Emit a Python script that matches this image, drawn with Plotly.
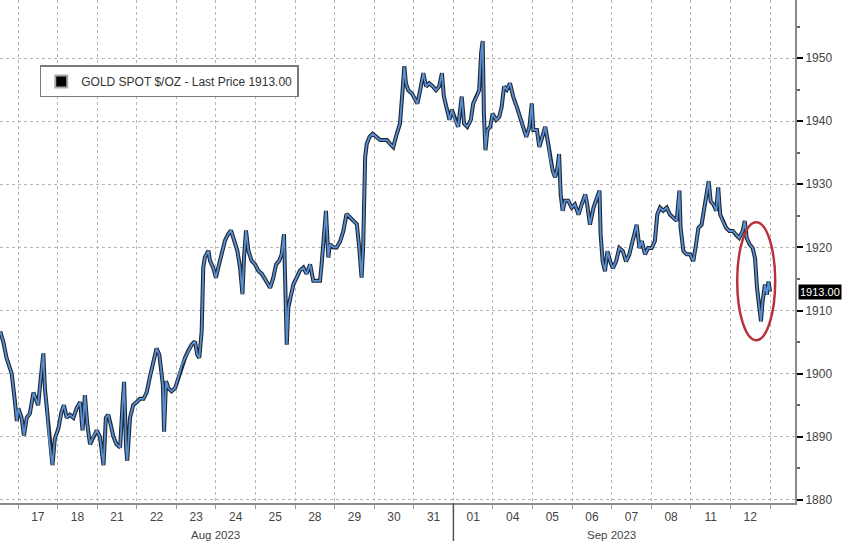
import plotly.graph_objects as go

# trading-day position (0 = start of Aug 17 session) and gold spot price
t_days = [-0.45, -0.37, -0.29, -0.16, -0.08, -0.03, 0.01, 0.09, 0.15, 0.22, 0.30, 0.39, 0.45, 0.51,
          0.57, 0.64, 0.68, 0.73, 0.79, 0.87, 0.93, 1.02, 1.10, 1.16, 1.23, 1.31, 1.40, 1.48,
          1.57, 1.63, 1.69, 1.75, 1.82, 1.90, 1.99, 2.07, 2.16, 2.22, 2.28, 2.34, 2.41, 2.49,
          2.58, 2.64, 2.68, 2.73, 2.76, 2.83, 2.91, 3.00, 3.08, 3.17, 3.25, 3.34, 3.42, 3.50,
          3.57, 3.66, 3.69, 3.74, 3.80, 3.88, 3.97, 4.05, 4.14, 4.22, 4.30, 4.39, 4.47, 4.53,
          4.58, 4.64, 4.68, 4.72, 4.81, 4.85, 4.93, 5.00, 5.06, 5.15, 5.23, 5.31, 5.38, 5.46,
          5.54, 5.61, 5.67, 5.71, 5.76, 5.82, 5.90, 5.99, 6.07, 6.16, 6.27, 6.37, 6.45, 6.52,
          6.60, 6.66, 6.72, 6.75, 6.79, 6.83, 6.89, 6.96, 7.04, 7.12, 7.21, 7.29, 7.38, 7.46,
          7.55, 7.63, 7.67, 7.71, 7.76, 7.78, 7.84, 7.88, 7.97, 8.05, 8.14, 8.22, 8.30, 8.39,
          8.47, 8.56, 8.62, 8.68, 8.72, 8.77, 8.81, 8.88, 8.96, 9.06, 9.15, 9.23, 9.32, 9.40,
          9.48, 9.57, 9.65, 9.71, 9.76, 9.80, 9.86, 9.95, 10.03, 10.09, 10.16, 10.24, 10.31,
          10.39, 10.48, 10.56, 10.64, 10.71, 10.76, 10.83, 10.90, 10.96, 11.04, 11.12, 11.21,
          11.27, 11.35, 11.44, 11.50, 11.59, 11.65, 11.70, 11.74, 11.77, 11.81, 11.86, 11.93,
          11.99, 12.08, 12.16, 12.22, 12.28, 12.35, 12.43, 12.51, 12.60, 12.68, 12.77, 12.84,
          12.92, 12.98, 13.02, 13.11, 13.17, 13.26, 13.32, 13.38, 13.44, 13.51, 13.57, 13.63,
          13.67, 13.71, 13.76, 13.82, 13.90, 13.99, 14.07, 14.16, 14.24, 14.33, 14.38, 14.45,
          14.54, 14.60, 14.69, 14.72, 14.77, 14.83, 14.89, 14.96, 15.03, 15.11, 15.19, 15.28,
          15.36, 15.44, 15.55, 15.63, 15.70, 15.76, 15.84, 15.92, 16.01, 16.09, 16.15, 16.22,
          16.30, 16.39, 16.47, 16.56, 16.64, 16.71, 16.74, 16.81, 16.89, 16.98, 17.06, 17.13,
          17.19, 17.27, 17.33, 17.40, 17.45, 17.50, 17.57, 17.64, 17.69, 17.74, 17.80, 17.89,
          17.97, 18.06, 18.14, 18.22, 18.31, 18.36, 18.41, 18.48, 18.56, 18.62, 18.67, 18.72,
          18.77, 18.81, 18.87, 18.92, 18.96, 19.00]

price = [1906.7, 1905.0, 1902.5, 1900.0, 1895.7, 1892.5, 1894.5, 1893.0, 1890.2, 1893.0, 1893.7, 1897.0, 1896.0, 1895.0,
         1899.0, 1903.2, 1897.6, 1894.5, 1889.2, 1885.5, 1889.7, 1891.3, 1894.0, 1895.0, 1893.0, 1893.5, 1893.0, 1894.5,
         1895.5, 1891.0, 1896.6, 1892.0, 1888.8, 1890.0, 1891.0, 1890.0, 1885.5, 1893.0, 1893.5, 1892.0, 1890.0, 1888.8,
         1888.3, 1895.0, 1898.7, 1888.3, 1886.2, 1893.0, 1895.0, 1895.5, 1896.0, 1896.0, 1897.0, 1899.7, 1901.8, 1904.0,
         1903.0, 1898.2, 1890.8, 1898.8, 1897.7, 1897.2, 1897.7, 1899.3, 1901.4, 1902.5, 1903.6, 1904.6, 1905.1, 1903.0,
         1902.5, 1906.7, 1916.8, 1918.4, 1919.5, 1917.9, 1916.8, 1915.2, 1916.8, 1918.9, 1921.1, 1922.1, 1922.7, 1921.1,
         1919.5, 1916.8, 1912.6, 1918.4, 1922.7, 1919.5, 1917.9, 1917.3, 1916.3, 1915.8, 1914.7, 1913.6, 1915.2, 1917.3,
         1917.9, 1918.9, 1922.1, 1914.2, 1904.6, 1910.5, 1912.0, 1914.2, 1915.2, 1916.3, 1916.8, 1915.8, 1917.3, 1914.7,
         1914.7, 1914.7, 1917.3, 1920.0, 1923.7, 1925.8, 1918.4, 1920.5, 1920.0, 1920.0, 1921.0, 1922.6, 1925.3, 1924.7,
         1924.2, 1923.7, 1920.0, 1915.2, 1920.0, 1934.3, 1936.4, 1937.5, 1938.0, 1937.5, 1937.0, 1937.0, 1937.0, 1936.4,
         1935.9, 1938.0, 1939.6, 1944.4, 1948.7, 1946.0, 1944.9, 1944.4, 1943.4, 1942.8, 1944.9, 1947.6, 1945.5,
         1946.0, 1945.5, 1944.9, 1945.5, 1947.6, 1943.9, 1941.8, 1940.2, 1941.8, 1940.2, 1939.1, 1943.9,
         1939.6, 1939.1, 1940.2, 1942.8, 1943.9, 1944.9, 1950.8, 1952.7, 1941.2, 1935.4, 1938.6, 1939.1,
         1941.2, 1940.2, 1940.7, 1942.3, 1945.5, 1945.0, 1946.0, 1943.9, 1942.3, 1940.7, 1938.6, 1937.5,
         1939.1, 1942.8, 1938.6, 1938.6, 1935.9, 1938.0, 1939.1, 1937.0, 1934.3, 1932.1, 1931.1, 1932.7,
         1934.8, 1928.4, 1925.8, 1927.4, 1927.4, 1926.3, 1926.8, 1925.2, 1926.8, 1928.4, 1926.8, 1923.6,
         1926.3, 1927.4, 1929.0, 1922.0, 1917.8, 1916.2, 1919.4, 1917.8, 1916.7, 1917.8, 1919.9, 1919.4,
         1917.8, 1918.8, 1921.5, 1923.6, 1919.9, 1921.0, 1918.9, 1919.9, 1919.9, 1921.0, 1925.2, 1926.3,
         1925.8, 1926.3, 1925.2, 1924.7, 1924.2, 1929.0, 1923.1, 1919.4, 1918.9, 1918.9, 1917.8, 1920.5,
         1923.1, 1923.6, 1925.8, 1928.4, 1930.5, 1927.3, 1926.8, 1925.8, 1929.5, 1925.2, 1924.2, 1923.1,
         1922.6, 1922.6, 1922.0, 1921.5, 1922.6, 1924.2, 1921.5, 1920.5, 1919.9, 1918.3, 1913.6, 1910.4,
         1908.3, 1911.4, 1914.1, 1912.5, 1914.6, 1913.0]

day_labels = ["17", "18", "21", "22", "23", "24", "25", "28", "29", "30", "31",
              "01", "04", "05", "06", "07", "08", "11", "12"]
day_centers = [i + 0.5 for i in range(len(day_labels))]
month_labels = ["Aug 2023", "Sep 2023"]
month_centers = [5.0, 15.0]
y_ticks = [1880, 1890, 1900, 1910, 1920, 1930, 1940, 1950]
last_price = 1913.00

font_family = "Liberation Sans, Arial, sans-serif"
grid_c = '#b5b5b5'

fig = go.Figure()
fig.add_trace(go.Scatter(x=t_days, y=price, mode='lines',
                         line=dict(color='#1e2834', width=4),
                         showlegend=False, hoverinfo='skip'))
fig.add_trace(go.Scatter(x=t_days, y=price, mode='lines',
                         line=dict(color='#5a8fd2', width=1.8),
                         showlegend=False))
fig.add_trace(go.Scatter(x=[None], y=[None], mode='markers',
                         marker=dict(symbol='square', color='black', size=10,
                                     line=dict(color='#aaaaaa', width=1)),
                         name='GOLD SPOT $/OZ - Last Price %.2f' % last_price))

# red ellipse around the last drop
fig.add_shape(type='circle', xref='x', yref='y', x0=18.17, x1=19.13, y0=1905.3, y1=1924.0,
              line=dict(color='#b8323b', width=2.5))
# month separator below the axis
fig.add_shape(type='line', xref='x', yref='paper', x0=11, x1=11, y0=0, y1=-0.08,
              line=dict(color='#555555', width=1.5))

for lbl, c in zip(month_labels, month_centers):
    fig.add_annotation(x=c, y=-0.063, xref='x', yref='paper', text=lbl, showarrow=False,
                       yanchor='middle', font=dict(size=11.5, color='#444444', family=font_family))

fig.add_annotation(x=1, y=last_price, xref='paper', yref='y', text='%.2f' % last_price,
                   showarrow=False, xanchor='left', xshift=3, bgcolor='black',
                   font=dict(size=11, color='white', family=font_family), borderpad=1)

fig.update_layout(
    width=848, height=541,
    margin=dict(l=0, r=53, t=0, b=38),
    paper_bgcolor='white',
    plot_bgcolor='white',
    font=dict(family=font_family, color='#444444', size=12),
    showlegend=True,
    legend=dict(x=0.05, y=0.87, xanchor='left', yanchor='top',
                bgcolor='white', bordercolor='#7a7a7a', borderwidth=1.5,
                font=dict(size=12, color='#333333'), itemsizing='constant'),
    xaxis=dict(range=[-0.455, 19.63], tickmode='array', tickvals=day_centers,
               ticktext=day_labels, ticks='', showgrid=False, zeroline=False,
               showline=True, linecolor='#8a8a8a', linewidth=2,
               ticklabelstandoff=2,
               minor=dict(tickmode='linear', tick0=0, dtick=1, showgrid=True,
                          gridcolor=grid_c, griddash='dot', gridwidth=1,
                          ticks='outside', ticklen=4, tickcolor='#999999')),
    yaxis=dict(side='right', range=[1879.5, 1959.2], tickmode='array', tickvals=y_ticks,
               ticks='outside', ticklen=6, tickwidth=2, tickcolor='black',
               showline=True, linecolor='#8a8a8a', linewidth=2, zeroline=False,
               showgrid=True, gridcolor=grid_c, griddash='dot', gridwidth=1,
               minor=dict(tickmode='linear', tick0=1875, dtick=5, ticks='outside',
                          ticklen=3, tickcolor='#666666')),
)

fig.write_html("out.html", config={'displayModeBar': False},
               post_script="document.body.style.margin='0px';")
